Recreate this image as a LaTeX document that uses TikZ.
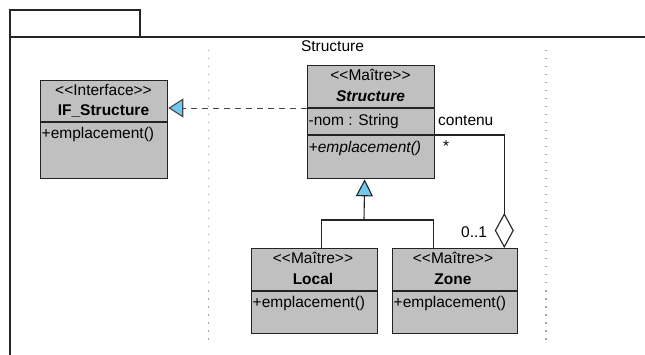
\documentclass[tikz,border=0pt]{standalone}
\usepackage{fontspec}
\newfontfamily\umlfont{Liberation Sans}
\usetikzlibrary{arrows.meta}
\definecolor{boxgray}{RGB}{192,192,192}
\definecolor{umlblue}{RGB}{112,200,238}
\definecolor{edgecol}{RGB}{35,35,35}
\definecolor{dashcol}{RGB}{70,70,70}
\definecolor{dotcol}{RGB}{160,160,160}
\begin{document}
\begin{tikzpicture}[x=1pt,y=-1pt,
  font=\umlfont\fontsize{15.5}{18}\selectfont,
  classbox/.style={draw=edgecol, fill=boxgray, line width=1.3pt, inner sep=0pt, anchor=north west},
  sepline/.style={draw=edgecol, line width=1.3pt},
  txt/.style={inner sep=0pt, anchor=base},
  mem/.style={inner sep=0pt, anchor=base west},
  conn/.style={draw=edgecol, line width=1.1pt},
  frameline/.style={draw=black!85, line width=1.3pt},
  dotline/.style={draw=dotcol, line width=1.2pt, dash pattern=on 1.5pt off 6.5pt},
  realtip/.style={-{Triangle[length=15pt,width=19pt,fill=umlblue,line width=1.1pt]}},
  gentip/.style={-{Triangle[length=17pt,width=17pt,fill=umlblue,line width=1.1pt]}},
  aggtip/.style={-{Diamond[length=35pt,width=19pt,fill=white,line width=1.1pt]}}
]
\useasboundingbox (0,0) rectangle (645,355);
\fill[white] (0,0) rectangle (645,355);

% package frame
\draw[frameline] (10,10) rectangle (140,37);
\draw[frameline] (645,37) -- (10,37) -- (10,355);
\node[txt] (pkgname) at (332.5,52) {Structure};

% swimlane dotted lines
\draw[dotline] (208.5,50) -- (208.5,340);
\draw[dotline] (546,50) -- (546,340);

% IF_Structure
\node[classbox, minimum width=127pt, minimum height=98pt] (ifs) at (40,80) {};
\draw[sepline] ([yshift=-42pt]ifs.north west) -- ([yshift=-42pt]ifs.north east);
\node[txt] (ifsst) at (103.5,96) {<<Interface>>};
\node[txt, font=\umlfont\fontsize{15.5}{18}\selectfont\bfseries] (ifsname) at (103.5,116) {IF\_Structure};
\node[mem] (ifsop) at (41.5,139) {+emplacement()};

% Structure
\node[classbox, minimum width=127pt, minimum height=113pt] (struct) at (307,65) {};
\draw[sepline] ([yshift=-43pt]struct.north west) -- ([yshift=-43pt]struct.north east);
\draw[sepline] ([yshift=-70pt]struct.north west) -- ([yshift=-70pt]struct.north east);
\node[txt] (structst) at (370.5,81) {<<Maître>>};
\node[txt, font=\umlfont\fontsize{15.5}{18}\selectfont\bfseries\itshape] (structname) at (370.5,102) {Structure};
\node[mem] (structattr) at (308.5,126) {-nom : String};
\node[mem, font=\umlfont\fontsize{15.5}{18}\selectfont\itshape] (structop) at (308.5,153) {+emplacement()};

% Local
\node[classbox, minimum width=126pt, minimum height=85pt] (local) at (251,248) {};
\draw[sepline] ([yshift=-43pt]local.north west) -- ([yshift=-43pt]local.north east);
\node[txt] (localst) at (313,264) {<<Maître>>};
\node[txt, font=\umlfont\fontsize{15.5}{18}\selectfont\bfseries] (localname) at (313,285) {Local};
\node[mem] (localop) at (252.5,308) {+emplacement()};

% Zone
\node[classbox, minimum width=125pt, minimum height=85pt] (zone) at (392,248) {};
\draw[sepline] ([yshift=-43pt]zone.north west) -- ([yshift=-43pt]zone.north east);
\node[txt] (zonest) at (453,264) {<<Maître>>};
\node[txt, font=\umlfont\fontsize{15.5}{18}\selectfont\bfseries] (zonename) at (453,285) {Zone};
\node[mem] (zoneop) at (393.5,308) {+emplacement()};

% realization
\draw[conn, draw=dashcol, line width=0.9pt, dash pattern=on 6pt off 5pt, realtip] ([yshift=-43pt]struct.north west) -- ([yshift=-28pt]ifs.north east);

% generalization
\coordinate (gj) at (364,220);
\draw[conn, gentip] (gj) -- ([xshift=-6.5pt]struct.south);
\draw[conn] ([xshift=7pt]local.north) |- (gj) -| ([xshift=-21.5pt]zone.north);

% aggregation
\draw[conn, aggtip] ([yshift=-70pt]struct.north east) -| ([xshift=-14pt]zone.north east);
\node[mem] (rolename) at (438,126) {contenu};
\node[mem] (multstar) at (443,152) {*};
\node[mem] (multzo) at (461,238) {0..1};
\end{tikzpicture}
\end{document}
